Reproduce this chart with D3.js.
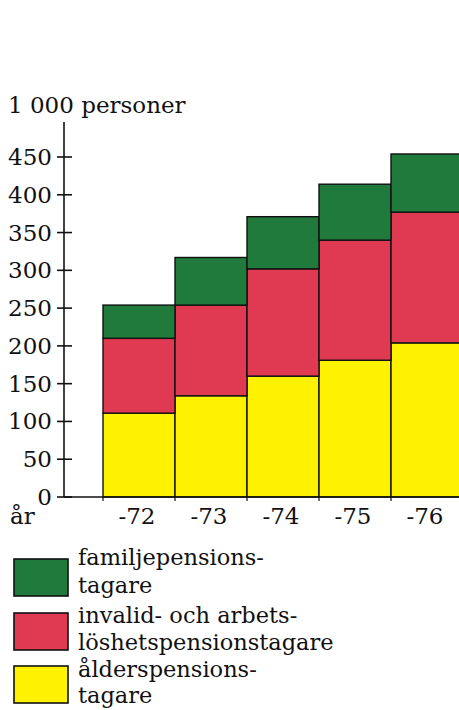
<!DOCTYPE html>
<html><head><meta charset="utf-8">
<script src="https://cdn.jsdelivr.net/npm/d3@7"></script>
<style>body{margin:0;background:#fff}svg{display:block}</style>
</head><body>
<script>
const years = ["-72", "-73", "-74", "-75", "-76"];
const alder = [111, 134, 160, 181, 204];
const invalid = [99, 120, 142, 159, 173];
const familj = [44, 63, 69, 74, 77];
const yTicks = [0, 50, 100, 150, 200, 250, 300, 350, 400, 450];
const colors = ["#fff200", "#e03a52", "#1f7a3c"];
const legendLines = [
  ["familjepensions-", "tagare"],
  ["invalid- och arbets-", "löshetspensionstagare"],
  ["ålderspensions-", "tagare"]
];
const legendColors = ["#1f7a3c", "#e03a52", "#fff200"];

const W = 459, H = 710;
const font = "DejaVu Serif";
const fs = 23;
const svg = d3.select("body").append("svg").attr("width", W).attr("height", H);

const y = d3.scaleLinear().domain([0, 450]).range([497, 157]);
const x = d3.scaleBand().domain(years).range([103, 463]).padding(0);

const table = years.map((yr, i) => ({year: yr, a: alder[i], b: invalid[i], c: familj[i]}));
const stack = d3.stack().keys(["a", "b", "c"])(table);

const g = svg.append("g");
stack.forEach((layer, li) => {
  g.selectAll(null).data(layer).enter().append("rect")
    .attr("x", d => x(d.data.year))
    .attr("width", x.bandwidth())
    .attr("y", d => y(d[1]))
    .attr("height", d => y(d[0]) - y(d[1]))
    .attr("fill", colors[li])
    .attr("stroke", "#111")
    .attr("stroke-width", 1.4);
});

// y axis
const axisX = 64;
svg.append("line").attr("x1", axisX).attr("x2", axisX).attr("y1", 122).attr("y2", 497)
  .attr("stroke", "#111").attr("stroke-width", 1.6);
svg.append("line").attr("x1", axisX).attr("x2", W + 5).attr("y1", y(0)).attr("y2", y(0))
  .attr("stroke", "#111").attr("stroke-width", 1.6);
const yAxis = svg.append("g");
yAxis.selectAll(null).data(yTicks).enter().append("line")
  .attr("x1", axisX - 7).attr("x2", axisX + 8)
  .attr("y1", d => y(d)).attr("y2", d => y(d))
  .attr("stroke", "#111").attr("stroke-width", 1.6);
yAxis.selectAll(null).data(yTicks).enter().append("text")
  .attr("x", 52).attr("y", d => y(d) + 8)
  .attr("text-anchor", "end")
  .attr("font-family", font).attr("font-size", fs).attr("fill", "#111")
  .text(d => d);

// x ticks below baseline at bar edges
svg.selectAll(null).data(years).enter().append("line")
  .attr("x1", d => x(d)).attr("x2", d => x(d))
  .attr("y1", y(0)).attr("y2", y(0) + 4)
  .attr("stroke", "#111").attr("stroke-width", 1.2);

// x labels
svg.selectAll(null).data(years).enter().append("text")
  .attr("x", d => x(d) + x.bandwidth() / 2 - 2).attr("y", 524)
  .attr("text-anchor", "middle")
  .attr("font-family", font).attr("font-size", fs).attr("fill", "#111")
  .text(d => d);
svg.append("text").attr("x", 10).attr("y", 524)
  .attr("font-family", font).attr("font-size", fs).attr("fill", "#111").text("år");

// title
svg.append("text").attr("x", 8).attr("y", 113)
  .attr("font-family", font).attr("font-size", fs).attr("fill", "#111").text("1 000 personer");

// legend
const boxY = [559, 613, 666];
const baseY = [[565, 593], [623, 650], [677, 703]];
legendLines.forEach((lines, i) => {
  svg.append("rect").attr("x", 14).attr("y", boxY[i]).attr("width", 54).attr("height", 37)
    .attr("fill", legendColors[i]).attr("stroke", "#111").attr("stroke-width", 1.6);
  lines.forEach((t, j) => {
    svg.append("text").attr("x", 78).attr("y", baseY[i][j])
      .attr("font-family", font).attr("font-size", 22.5).attr("fill", "#111").text(t);
  });
});
</script>
</body></html>
